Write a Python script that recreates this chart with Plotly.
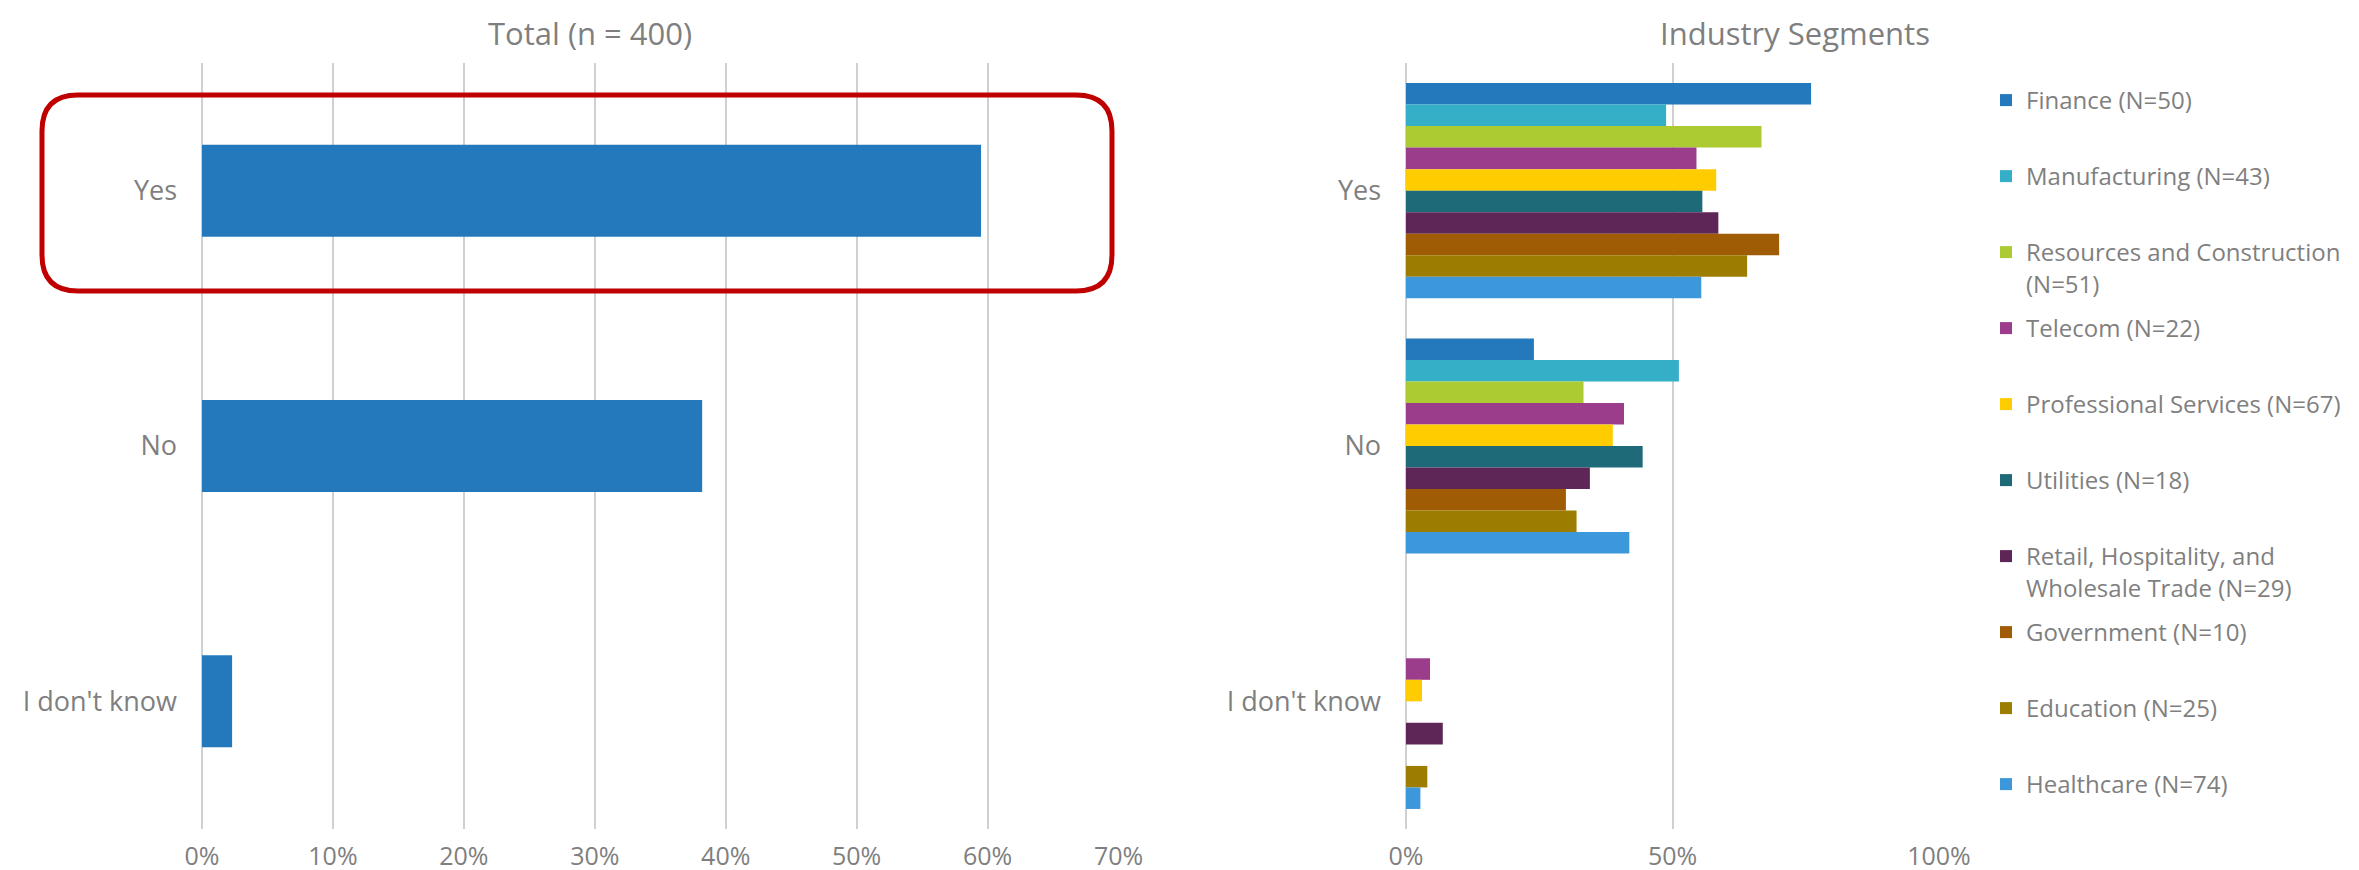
import plotly.graph_objects as go

W, H = 2359, 870

# ---------------- data ----------------
answers = ["Yes", "No", "I don't know"]
total_values = [59.5, 38.2, 2.3]

segments = [
    "Finance (N=50)",
    "Manufacturing (N=43)",
    "Resources and Construction<br>(N=51)",
    "Telecom (N=22)",
    "Professional Services (N=67)",
    "Utilities (N=18)",
    "Retail, Hospitality, and<br>Wholesale Trade (N=29)",
    "Government (N=10)",
    "Education (N=25)",
    "Healthcare (N=74)",
]
seg_yes = [76.0, 48.8, 66.7, 54.5, 58.2, 55.6, 58.6, 70.0, 64.0, 55.4]
seg_no = [24.0, 51.2, 33.3, 40.9, 38.8, 44.4, 34.5, 30.0, 32.0, 41.9]
seg_idk = [0.0, 0.0, 0.0, 4.5, 3.0, 0.0, 6.9, 0.0, 4.0, 2.7]
seg_colors = ["#2479BD", "#35AEC8", "#ACCB33", "#9C3D8C", "#FFCC00",
              "#1F6A78", "#5E2656", "#A05C05", "#9C7D00", "#3D98DB"]
total_color = "#2479BD"

left_ticks = [0, 10, 20, 30, 40, 50, 60, 70]
left_ticktext = ["0%", "10%", "20%", "30%", "40%", "50%", "60%", "70%"]
right_ticks = [0, 50, 100]
right_ticktext = ["0%", "50%", "100%"]

# ---------------- styling ----------------
FONT = "Open Sans"
GRAY = "#7F7F7F"
GRID = "#D0D0D0"

def px(x):
    return x / W

def py(y):
    return 1 - y / H

def legend_label(name):
    # give every legend entry two text lines so entries sit in equal slots
    return name if "<br>" in name else name + "<br>\u00a0"

fig = go.Figure()

fig.add_trace(go.Bar(
    y=answers, x=total_values, orientation="h",
    marker=dict(color=total_color, line=dict(width=0)),
    width=0.36, showlegend=False, xaxis="x", yaxis="y",
))

for name, col, a, b, c in zip(segments, seg_colors, seg_yes, seg_no, seg_idk):
    fig.add_trace(go.Bar(
        y=answers, x=[a, b, c], orientation="h", name=legend_label(name),
        marker=dict(color=col, line=dict(width=0)),
        legendgroup=name, xaxis="x2", yaxis="y2",
    ))

ydom = [py(821), py(55)]

axis_common = dict(
    showgrid=True, gridcolor=GRID, gridwidth=2,
    zeroline=True, zerolinecolor=GRID, zerolinewidth=2,
    showline=False, ticks="", tickmode="array",
    tickfont=dict(family=FONT, size=25, color=GRAY),
    ticklabelstandoff=10, automargin=False, fixedrange=True,
)
yaxis_common = dict(
    type="category", categoryorder="array", categoryarray=answers,
    autorange="reversed", showgrid=False, zeroline=False, showline=False,
    ticks="", tickfont=dict(family=FONT, size=27, color=GRAY),
    ticklabelstandoff=24, domain=ydom, automargin=False, fixedrange=True,
)

fig.update_layout(
    width=W, height=H,
    margin=dict(l=0, r=0, t=0, b=0, autoexpand=False),
    paper_bgcolor="white", plot_bgcolor="white",
    barmode="group", bargap=0.157, bargroupgap=0,
    xaxis=dict(domain=[px(194), px(1110.5)], range=[0, 70],
               tickvals=left_ticks, ticktext=left_ticktext, anchor="y", **axis_common),
    yaxis=dict(anchor="x", **yaxis_common),
    xaxis2=dict(domain=[px(1398), px(1931)], range=[0, 100],
                tickvals=right_ticks, ticktext=right_ticktext, anchor="y2", **axis_common),
    yaxis2=dict(anchor="x2", **yaxis_common),
    legend=dict(
        x=px(1978), y=py(70), xanchor="left", yanchor="top",
        font=dict(family=FONT, size=24, color=GRAY),
        traceorder="grouped", tracegroupgap=10.6, valign="top",
        bgcolor="rgba(0,0,0,0)", borderwidth=0,
    ),
    font=dict(family=FONT, color=GRAY),
    annotations=[
        dict(text="Total (n = 400)", x=px(582), y=py(25), xref="paper", yref="paper",
             showarrow=False, font=dict(family=FONT, size=31, color=GRAY),
             xanchor="center", yanchor="middle"),
        dict(text="Industry Segments", x=px(1787), y=py(25), xref="paper", yref="paper",
             showarrow=False, font=dict(family=FONT, size=31, color=GRAY),
             xanchor="center", yanchor="middle"),
    ],
)

# rounded highlight around the "Yes" row of the total chart
x0, x1, y0, y1, r = 34, 1104, 87, 283, 36
pts = [
    ("M", [(x0 + r, y0)]),
    ("L", [(x1 - r, y0)]),
    ("Q", [(x1, y0), (x1, y0 + r)]),
    ("L", [(x1, y1 - r)]),
    ("Q", [(x1, y1), (x1 - r, y1)]),
    ("L", [(x0 + r, y1)]),
    ("Q", [(x0, y1), (x0, y1 - r)]),
    ("L", [(x0, y0 + r)]),
    ("Q", [(x0, y0), (x0 + r, y0)]),
]
path = " ".join(cmd + " " + " ".join(f"{px(a):.5f},{py(b):.5f}" for a, b in p) for cmd, p in pts) + " Z"
fig.add_shape(type="path", path=path, xref="paper", yref="paper",
              line=dict(color="#C00000", width=5), fillcolor="rgba(0,0,0,0)")

fig.write_html("out.html")
